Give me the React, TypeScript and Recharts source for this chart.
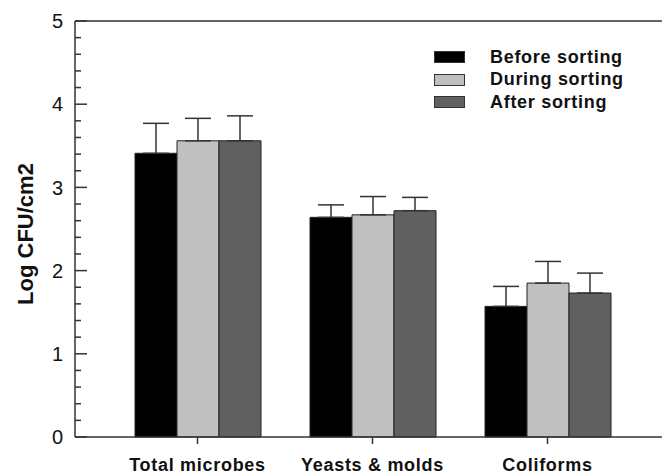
import { BarChart, Bar, XAxis, YAxis, ErrorBar, Legend, ReferenceLine } from "recharts"

const categories = ["Total microbes", "Yeasts & molds", "Coliforms"]

const beforeVals = [3.41, 2.64, 1.57]
const beforeErr = [0.36, 0.15, 0.24]
const duringVals = [3.56, 2.67, 1.85]
const duringErr = [0.27, 0.22, 0.26]
const afterVals = [3.56, 2.72, 1.73]
const afterErr = [0.3, 0.16, 0.24]

const seriesNames = ["Before sorting", "During sorting", "After sorting"]
const seriesKeys = ["before", "during", "after"]
const seriesColors = ["#000000", "#c0c0c0", "#606060"]

const yTicks = [
  0, 0.2, 0.4, 0.6, 0.8, 1, 1.2, 1.4, 1.6, 1.8, 2, 2.2, 2.4, 2.6, 2.8, 3, 3.2, 3.4, 3.6, 3.8, 4, 4.2, 4.4,
  4.6, 4.8, 5,
]

const FONT = '"Liberation Sans", Arial, sans-serif'
const AXIS = "#333"

const data = categories.map((name, i) => ({
  name,
  before: beforeVals[i],
  beforeErr: [0, beforeErr[i]],
  during: duringVals[i],
  duringErr: [0, duringErr[i]],
  after: afterVals[i],
  afterErr: [0, afterErr[i]],
}))

// major ticks get a label, minor ones only a short inside line
function YTick(props: any) {
  const { x, y, payload } = props
  const v = payload.value
  const major = Math.abs(v - Math.round(v)) < 1e-6
  return (
    <g>
      <line x1={x} x2={x + (major ? 12 : 6)} y1={y} y2={y} stroke={AXIS} strokeWidth={1.5} />
      {major && (
        <text x={x - 12} y={y} dy="0.36em" textAnchor="end" fontSize={20} fill="#111" fontFamily={FONT}>
          {v}
        </text>
      )}
    </g>
  )
}

function LegendBox() {
  return (
    <div style={{ fontFamily: FONT }}>
      {seriesNames.map((n, i) => (
        <div key={n} style={{ display: "flex", alignItems: "center", height: 22.5 }}>
          <div
            style={{
              width: 29,
              height: 10,
              background: seriesColors[i],
              border: `1.5px solid ${AXIS}`,
            }}
          />
          <span style={{ marginLeft: 25, fontSize: 18, fontWeight: "bold", letterSpacing: 0.7, color: "#111" }}>
            {n}
          </span>
        </div>
      ))}
    </div>
  )
}

export default function App() {
  return (
    <div style={{ width: 662, height: 474, overflow: "hidden", background: "#fff" }}>
      <style>{"body{margin:0}"}</style>
      <BarChart
        width={662}
        height={474}
        data={data}
        margin={{ top: 21, right: 0, bottom: 0, left: 0 }}
        barCategoryGap={25}
        barGap={0}
      >
        <XAxis
          dataKey="name"
          height={37}
          padding={{ left: 35, right: 27 }}
          axisLine={{ stroke: AXIS, strokeWidth: 1.5 }}
          tickLine={{ stroke: AXIS, strokeWidth: 1.5 }}
          tickSize={7}
          tickMargin={14}
          tick={{ fontSize: 18, fontWeight: "bold", fill: "#111", fontFamily: FONT, letterSpacing: 0.7 }}
        />
        <YAxis
          width={75}
          domain={[0, 5]}
          ticks={yTicks}
          interval={0}
          tickSize={0}
          tickMargin={0}
          tickLine={false}
          axisLine={{ stroke: AXIS, strokeWidth: 1.5 }}
          tick={<YTick />}
          label={{
            content: ({ viewBox }: any) => (
              <text
                x={viewBox.x + 25}
                y={viewBox.y + viewBox.height / 2 + 5}
                transform={`rotate(-90, ${viewBox.x + 25}, ${viewBox.y + viewBox.height / 2 + 5})`}
                textAnchor="middle"
                dominantBaseline="central"
                fontSize={22}
                fontWeight="bold"
                fill="#111"
                fontFamily={FONT}
              >
                Log CFU/cm2
              </text>
            ),
          }}
        />
        <ReferenceLine y={5} stroke={AXIS} strokeWidth={1.5} />
        <Legend
          layout="vertical"
          align="center"
          verticalAlign="middle"
          wrapperStyle={{ top: 46, left: 434, width: 220 }}
          content={() => <LegendBox />}
        />
        {seriesKeys.map((k, i) => (
          <Bar
            key={k}
            dataKey={k}
            name={seriesNames[i]}
            fill={seriesColors[i]}
            stroke="#222"
            strokeWidth={1}
            isAnimationActive={false}
          >
            <ErrorBar dataKey={`${k}Err`} width={13} stroke={AXIS} strokeWidth={1.5} direction="y" />
          </Bar>
        ))}
      </BarChart>
    </div>
  )
}
